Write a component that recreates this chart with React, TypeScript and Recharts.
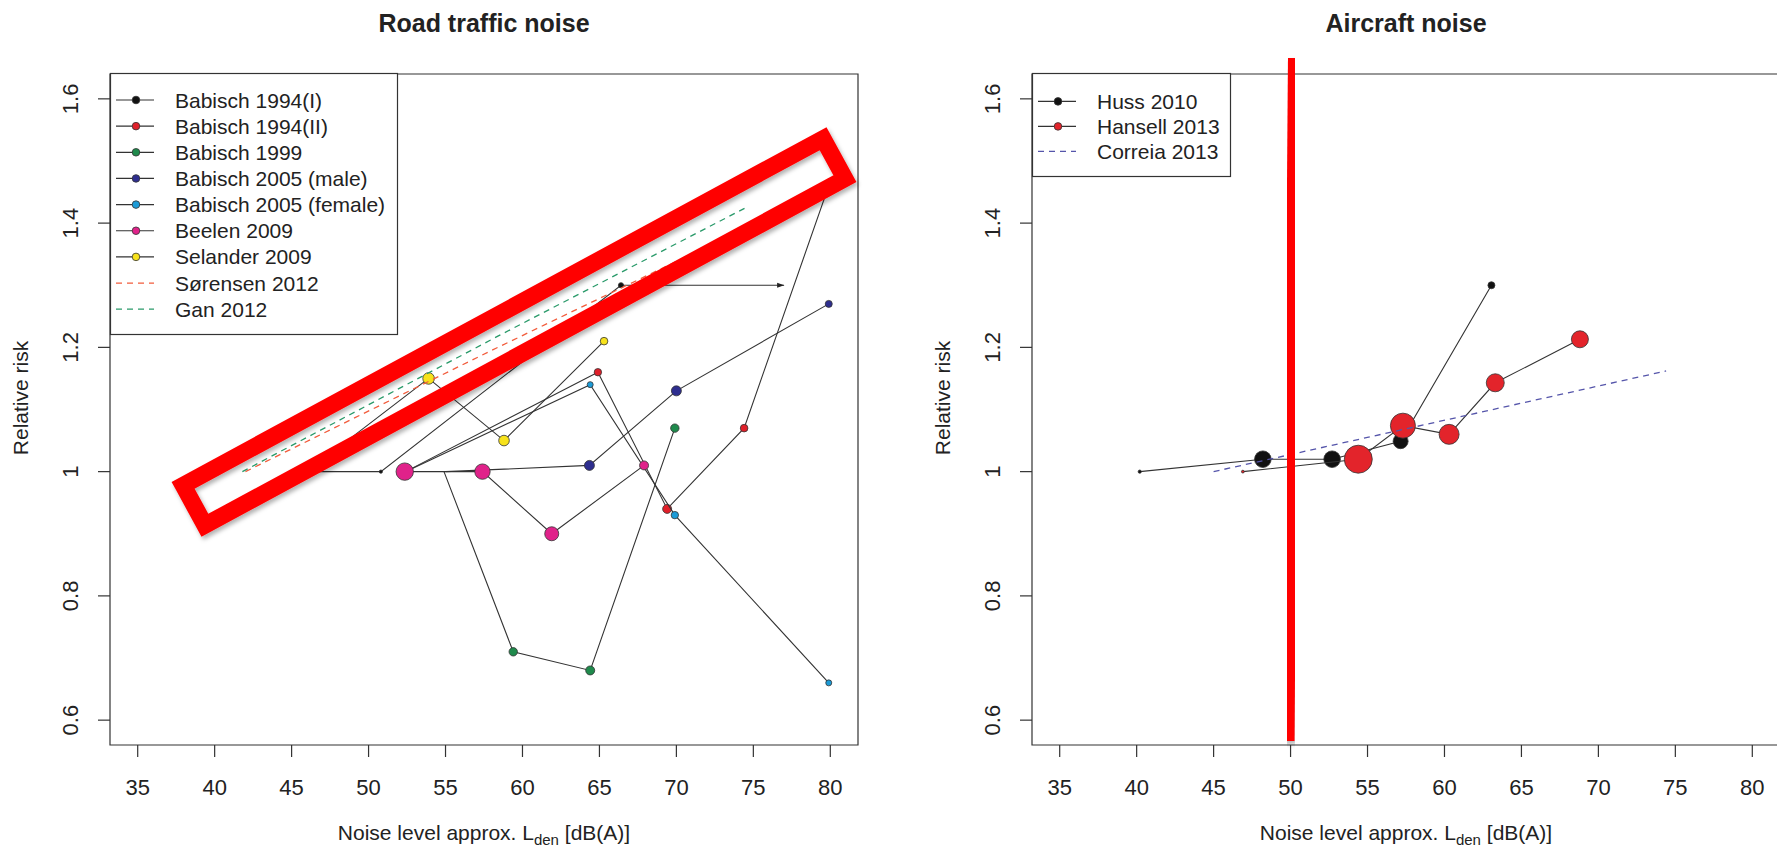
import React from 'react';
import { ScatterChart, Scatter, XAxis, YAxis, ReferenceArea, Legend } from 'recharts';

const FONT = '"Liberation Sans", Arial, Helvetica, sans-serif';

// ---------- axes ----------
const xTicks = [35, 40, 45, 50, 55, 60, 65, 70, 75, 80];
const yTicks = [0.6, 0.8, 1, 1.2, 1.4, 1.6];
const xDomain = [33.2, 81.8];
const yDomain = [0.56, 1.64];

// ---------- Road traffic noise ----------
const b94I_level = [46.0, 50.8, 66.4, 77.0];
const b94I_rr = [1.0, 1.0, 1.3, 1.3];

const b94II_level = [52.4, 64.9, 69.4, 74.4, 79.9];
const b94II_rr = [1.0, 1.16, 0.94, 1.07, 1.46];

const b99_level = [54.9, 59.4, 64.4, 69.9];
const b99_rr = [1.0, 0.71, 0.68, 1.07];

const b05m_level = [55.0, 64.35, 70.0, 79.9];
const b05m_rr = [1.0, 1.01, 1.13, 1.27];

const b05f_level = [52.4, 64.4, 69.9, 79.9];
const b05f_rr = [1.0, 1.14, 0.93, 0.66];

const beelen_level = [52.35, 57.4, 61.9, 67.9];
const beelen_rr = [1.0, 1.0, 0.9, 1.01];

const selander_level = [46.0, 53.9, 58.8, 65.3];
const selander_rr = [1.0, 1.15, 1.05, 1.21];

const sorensen_level = [42.0, 58.4, 74.5];
const sorensen_rr = [1.0, 1.2, 1.392];

const gan_level = [41.8, 58.4, 74.6];
const gan_rr = [1.0, 1.218, 1.426];

// ---------- Aircraft noise ----------
const huss_level = [40.2, 48.2, 52.7, 57.15, 63.05];
const huss_rr = [1.0, 1.02, 1.02, 1.049, 1.3];

const hansell_level = [46.9, 54.4, 57.3, 60.3, 63.3, 68.8];
const hansell_rr = [1.0, 1.02, 1.074, 1.06, 1.143, 1.213];

const correia_level = [45.0, 74.4];
const correia_rr = [1.0, 1.162];

// ---------- styles (marker radii, colours) ----------
const roadSeries = [
  { name: 'Babisch 1994(I)', level: b94I_level, rr: b94I_rr, radius: [0, 1.6, 2.6, 0], arrow: [false, false, false, true], color: '#111111', dashed: false },
  { name: 'Babisch 1994(II)', level: b94II_level, rr: b94II_rr, radius: [0, 3.7, 4.5, 3.8, 2.3], color: '#E0202A', dashed: false },
  { name: 'Babisch 1999', level: b99_level, rr: b99_rr, radius: [0, 4.2, 4.5, 4.2], color: '#1F8A4C', dashed: false },
  { name: 'Babisch 2005 (male)', level: b05m_level, rr: b05m_rr, radius: [0, 5, 5, 3.5], color: '#2E2E8F', dashed: false },
  { name: 'Babisch 2005 (female)', level: b05f_level, rr: b05f_rr, radius: [0, 3, 3.7, 3], color: '#1C9BD7', dashed: false },
  { name: 'Beelen 2009', level: beelen_level, rr: beelen_rr, radius: [8.7, 7.7, 7, 4.5], color: '#E0228A', dashed: false },
  { name: 'Selander 2009', level: selander_level, rr: selander_rr, radius: [0, 5.8, 5.3, 3.8], color: '#F7E21B', dashed: false },
  { name: 'Sørensen 2012', level: sorensen_level, rr: sorensen_rr, radius: [], color: '#F25C3C', dashed: true },
  { name: 'Gan 2012', level: gan_level, rr: gan_rr, radius: [], color: '#2A9A6A', dashed: true },
];

const airSeries = [
  { name: 'Huss 2010', level: huss_level, rr: huss_rr, radius: [1.6, 8.3, 8.3, 7.5, 3.5], color: '#111111', dashed: false },
  { name: 'Hansell 2013', level: hansell_level, rr: hansell_rr, radius: [1.4, 14, 12.5, 10, 9, 8.5], color: '#E3242B', dashed: false },
  { name: 'Correia 2013', level: correia_level, rr: correia_rr, radius: [], color: '#5555AA', dashed: true },
];

const toPoints = (s: any) =>
  s.level.map((x: number, i: number) => ({
    x,
    y: s.rr[i],
    r: s.radius[i] || 0,
    arrow: s.arrow ? s.arrow[i] : false,
  }));

const makeShape = (s: any) => (props: any) => {
  const { cx, cy, payload } = props;
  if (s.dashed || cx == null || cy == null) return <g />;
  if (payload && payload.arrow) {
    return <path d={`M${cx},${cy} l-7,-2.6 v5.2 z`} fill="#222" />;
  }
  const r = payload ? payload.r : 0;
  if (!r) return <g />;
  return <circle cx={cx} cy={cy} r={r} fill={s.color} stroke="#333" strokeWidth={0.8} />;
};

const XTick = (props: any) => {
  const { x, y, payload } = props;
  return (
    <text x={x} y={y + 36} textAnchor="middle" fontSize={22} fill="#222" fontFamily={FONT}>
      {String(payload.value)}
    </text>
  );
};

const YTick = (props: any) => {
  const { y, payload } = props;
  const bx = 78;
  return (
    <text x={bx} y={y} transform={`rotate(-90 ${bx} ${y})`} textAnchor="middle" fontSize={22} fill="#222" fontFamily={FONT}>
      {String(payload.value)}
    </text>
  );
};

const LegendBox = ({ series, w, h, start, step }: any) => (
  <svg width={w} height={h} style={{ display: 'block', overflow: 'visible' }}>
    <rect x={0.5} y={0.5} width={w - 1} height={h - 1} fill="#fff" stroke="#333" strokeWidth={1.2} />
    {series.map((s: any, i: number) => {
      const cy = start + i * step;
      return (
        <g key={s.name}>
          <line
            x1={6}
            x2={44}
            y1={cy}
            y2={cy}
            stroke={s.dashed ? s.color : '#333'}
            strokeWidth={1.2}
            strokeDasharray={s.dashed ? '6 5' : undefined}
          />
          {!s.dashed && <circle cx={26} cy={cy} r={3.8} fill={s.color} stroke="#333" strokeWidth={0.8} />}
          <text x={65} y={cy + 7.5} fontSize={21} fill="#222" fontFamily={FONT}>
            {s.name}
          </text>
        </g>
      );
    })}
  </svg>
);

function Panel({ left, series, legend }: any) {
  return (
    <div style={{ position: 'absolute', left, top: 0, width: 900, height: 848 }}>
      <ScatterChart width={900} height={848} margin={{ top: 74, right: 42, bottom: 0, left: 0 }}>
        <XAxis
          type="number"
          dataKey="x"
          domain={xDomain}
          ticks={xTicks}
          allowDataOverflow
          interval={0}
          axisLine={false}
          tickSize={12}
          tickLine={{ stroke: '#333', strokeWidth: 1.2 }}
          height={103}
          tick={<XTick />}
        />
        <YAxis
          type="number"
          dataKey="y"
          domain={yDomain}
          ticks={yTicks}
          allowDataOverflow
          interval={0}
          axisLine={false}
          tickSize={12}
          tickLine={{ stroke: '#333', strokeWidth: 1.2 }}
          width={110}
          tick={<YTick />}
        />
        <ReferenceArea
          x1={xDomain[0]}
          x2={xDomain[1]}
          y1={yDomain[0]}
          y2={yDomain[1]}
          fill="none"
          fillOpacity={0}
          stroke="#333"
          strokeWidth={1.2}
          ifOverflow="visible"
        />
        {series.map((s: any) => (
          <Scatter
            key={s.name}
            name={s.name}
            data={toPoints(s)}
            fill={s.color}
            line={
              s.dashed
                ? { stroke: s.color, strokeWidth: 1.3, strokeDasharray: '6 5' }
                : { stroke: '#333', strokeWidth: 1.1 }
            }
            lineType="joint"
            shape={makeShape(s)}
            isAnimationActive={false}
          />
        ))}
        <Legend
          layout="vertical"
          align="center"
          verticalAlign="middle"
          wrapperStyle={{ position: 'absolute', left: 110, top: 73, width: legend.w, height: legend.h, margin: 0, padding: 0 }}
          content={() => <LegendBox series={series} w={legend.w} h={legend.h} start={legend.start} step={legend.step} />}
        />
      </ScatterChart>
    </div>
  );
}

export default function App() {
  return (
    <div
      style={{
        position: 'absolute',
        left: 0,
        top: 0,
        width: 1777,
        height: 848,
        overflow: 'hidden',
        background: '#fff',
        fontFamily: FONT,
      }}
    >
      <Panel left={0} series={roadSeries} legend={{ w: 288, h: 262, start: 27, step: 26.15 }} />
      <Panel left={922} series={airSeries} legend={{ w: 199, h: 104, start: 28.4, step: 25 }} />
      <svg
        width={1777}
        height={848}
        style={{ position: 'absolute', left: 0, top: 0, pointerEvents: 'none' }}
      >
        <defs>
          <filter id="shadow" x="-10%" y="-10%" width="120%" height="120%">
            <feDropShadow dx="2" dy="3" stdDeviation="2" floodColor="#000" floodOpacity="0.3" />
          </filter>
        </defs>
        <text x={484} y={32} textAnchor="middle" fontSize={25} fontWeight="bold" fill="#222" fontFamily={FONT}>
          Road traffic noise
        </text>
        <text x={1406} y={32} textAnchor="middle" fontSize={25} fontWeight="bold" fill="#222" fontFamily={FONT}>
          Aircraft noise
        </text>
        {[484, 1406].map((cx) => (
          <text key={cx} x={cx} y={840} textAnchor="middle" fontSize={21} fill="#222" fontFamily={FONT}>
            <tspan>Noise level approx. L</tspan>
            <tspan fontSize={15} dy={5}>den</tspan>
            <tspan dy={-5}> [dB(A)]</tspan>
          </text>
        ))}
        {[28, 950].map((bx) => (
          <text
            key={bx}
            x={bx}
            y={398}
            transform={`rotate(-90 ${bx} 398)`}
            textAnchor="middle"
            fontSize={21}
            fill="#222"
            fontFamily={FONT}
          >
            Relative risk
          </text>
        ))}
        <polygon
          points="183.1,485.3 204.9,525.3 844.9,178.7 823.1,138.7"
          fill="none"
          stroke="#FF0000"
          strokeWidth={17}
          strokeLinejoin="miter"
          filter="url(#shadow)"
        />
        <line x1={1294} y1={58} x2={1288.5} y2={741} stroke="#FF0000" strokeWidth={12} filter="url(#shadow)" />
      </svg>
    </div>
  );
}
